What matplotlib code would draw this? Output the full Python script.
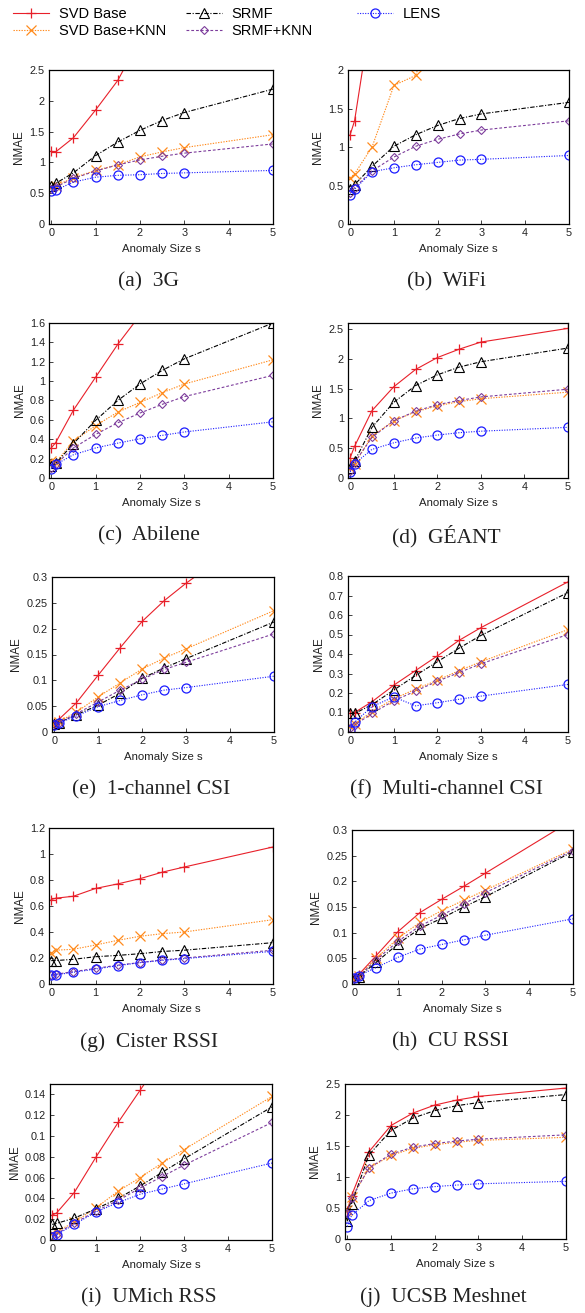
import matplotlib
matplotlib.use("Agg")
import matplotlib.pyplot as plt

plt.rcParams['font.family'] = ['Liberation Sans', 'DejaVu Sans']

# anomaly sizes (x axis)
sizes = [0, 0.1, 0.5, 1, 1.5, 2, 2.5, 3, 5]
method_names = ["SVD Base", "SVD Base+KNN", "SRMF", "SRMF+KNN", "LENS"]

# (a) 3G
svd_3g = [1.18, 1.17, 1.40, 1.85, 2.33, 3.0, 3.7, 4.4, 7.0]
svdknn_3g = [0.60, 0.62, 0.75, 0.87, 0.96, 1.09, 1.17, 1.24, 1.45]
srmf_3g = [0.62, 0.66, 0.83, 1.11, 1.33, 1.52, 1.68, 1.81, 2.19]
srmfknn_3g = [0.57, 0.60, 0.74, 0.86, 0.96, 1.04, 1.10, 1.15, 1.30]
lens_3g = [0.53, 0.55, 0.68, 0.76, 0.79, 0.80, 0.82, 0.83, 0.87]

# (b) WiFi
svd_wifi = [1.16, 1.34, 2.8, 3.6, 4.2, 4.7, 5.1, 5.4, 6.2]
svdknn_wifi = [0.60, 0.65, 1.00, 1.80, 1.93, 2.9, 3.3, 3.6, 4.5]
srmf_wifi = [0.45, 0.51, 0.75, 1.01, 1.16, 1.28, 1.37, 1.43, 1.58]
srmfknn_wifi = [0.40, 0.47, 0.69, 0.87, 1.01, 1.10, 1.17, 1.22, 1.34]
lens_wifi = [0.38, 0.45, 0.68, 0.73, 0.77, 0.80, 0.83, 0.84, 0.89]

# (c) Abilene
svd_abilene = [0.31, 0.365, 0.70, 1.04, 1.38, 1.68, 1.95, 2.2, 3.0]
svdknn_abilene = [0.18, 0.16, 0.38, 0.54, 0.68, 0.78, 0.88, 0.97, 1.22]
srmf_abilene = [0.12, 0.15, 0.355, 0.595, 0.80, 0.97, 1.11, 1.23, 1.60]
srmfknn_abilene = [0.10, 0.14, 0.31, 0.45, 0.57, 0.67, 0.76, 0.84, 1.06]
lens_abilene = [0.096, 0.14, 0.24, 0.31, 0.36, 0.405, 0.44, 0.475, 0.58]

# (d) GEANT
svd_geant = [0.34, 0.53, 1.13, 1.53, 1.82, 2.02, 2.16, 2.28, 2.51]
svdknn_geant = [0.17, 0.24, 0.70, 0.96, 1.11, 1.21, 1.28, 1.33, 1.44]
srmf_geant = [0.16, 0.28, 0.85, 1.27, 1.55, 1.73, 1.86, 1.95, 2.18]
srmfknn_geant = [0.12, 0.26, 0.68, 0.96, 1.12, 1.23, 1.30, 1.36, 1.49]
lens_geant = [0.10, 0.24, 0.48, 0.59, 0.67, 0.72, 0.76, 0.785, 0.85]

# (e) 1-channel CSI
svd_csi1 = [0.018, 0.024, 0.056, 0.110, 0.163, 0.214, 0.254, 0.288, 0.41]
svdknn_csi1 = [0.016, 0.020, 0.038, 0.068, 0.095, 0.122, 0.143, 0.161, 0.235]
srmf_csi1 = [0.016, 0.018, 0.033, 0.052, 0.075, 0.104, 0.124, 0.142, 0.213]
srmfknn_csi1 = [0.015, 0.018, 0.035, 0.058, 0.081, 0.102, 0.121, 0.135, 0.190]
lens_csi1 = [0.014, 0.017, 0.031, 0.049, 0.061, 0.072, 0.081, 0.086, 0.108]

# (f) Multi-channel CSI
svd_csim = [0.095, 0.100, 0.155, 0.240, 0.315, 0.390, 0.470, 0.535, 0.770]
svdknn_csim = [0.030, 0.040, 0.105, 0.170, 0.220, 0.265, 0.315, 0.360, 0.525]
srmf_csim = [0.095, 0.095, 0.140, 0.215, 0.290, 0.360, 0.430, 0.495, 0.715]
srmfknn_csim = [0.020, 0.035, 0.095, 0.160, 0.210, 0.260, 0.305, 0.350, 0.500]
lens_csim = [0.010, 0.050, 0.130, 0.180, 0.134, 0.150, 0.168, 0.184, 0.244]

# (g) Cister RSSI
svd_cister = [0.65, 0.66, 0.675, 0.735, 0.77, 0.81, 0.86, 0.90, 1.054]
svdknn_cister = [0.24, 0.26, 0.267, 0.30, 0.336, 0.367, 0.387, 0.40, 0.495]
srmf_cister = [0.18, 0.18, 0.19, 0.21, 0.22, 0.233, 0.25, 0.26, 0.318]
srmfknn_cister = [0.07, 0.075, 0.095, 0.12, 0.145, 0.165, 0.185, 0.20, 0.26]
lens_cister = [0.067, 0.07, 0.09, 0.115, 0.141, 0.164, 0.182, 0.195, 0.251]

# (h) CU RSSI
svd_cu = [0.012, 0.018, 0.055, 0.102, 0.139, 0.165, 0.190, 0.216, 0.320]
svdknn_cu = [0.012, 0.016, 0.050, 0.089, 0.120, 0.143, 0.163, 0.183, 0.263]
srmf_cu = [0.010, 0.014, 0.042, 0.078, 0.108, 0.128, 0.150, 0.170, 0.258]
srmfknn_cu = [0.011, 0.015, 0.047, 0.083, 0.113, 0.134, 0.156, 0.178, 0.260]
lens_cu = [0.011, 0.016, 0.032, 0.052, 0.068, 0.077, 0.086, 0.095, 0.127]

# (i) UMich RSS
svd_umich = [0.024, 0.026, 0.0455, 0.080, 0.113, 0.144, 0.175, 0.205, 0.32]
svdknn_umich = [0.007, 0.008, 0.017, 0.031, 0.047, 0.060, 0.074, 0.087, 0.138]
srmf_umich = [0.015, 0.016, 0.021, 0.030, 0.040, 0.052, 0.065, 0.078, 0.128]
srmfknn_umich = [0.004, 0.006, 0.016, 0.028, 0.038, 0.050, 0.061, 0.072, 0.113]
lens_umich = [0.003, 0.005, 0.015, 0.027, 0.036, 0.044, 0.049, 0.054, 0.074]

# (j) UCSB Meshnet
svd_ucsb = [0.45, 0.70, 1.41, 1.83, 2.03, 2.16, 2.24, 2.30, 2.435]
svdknn_ucsb = [0.47, 0.67, 1.14, 1.35, 1.46, 1.52, 1.56, 1.59, 1.64]
srmf_ucsb = [0.285, 0.57, 1.36, 1.75, 1.95, 2.07, 2.15, 2.20, 2.33]
srmfknn_ucsb = [0.42, 0.66, 1.145, 1.37, 1.48, 1.54, 1.58, 1.61, 1.68]
lens_ucsb = [0.20, 0.38, 0.62, 0.74, 0.81, 0.845, 0.87, 0.89, 0.93]

captions = ["(a)  3G", "(b)  WiFi", "(c)  Abilene", "(d)  GÉANT", "(e)  1-channel CSI",
            "(f)  Multi-channel CSI", "(g)  Cister RSSI", "(h)  CU RSSI",
            "(i)  UMich RSS", "(j)  UCSB Meshnet"]
panel_series = [
    [svd_3g, svdknn_3g, srmf_3g, srmfknn_3g, lens_3g],
    [svd_wifi, svdknn_wifi, srmf_wifi, srmfknn_wifi, lens_wifi],
    [svd_abilene, svdknn_abilene, srmf_abilene, srmfknn_abilene, lens_abilene],
    [svd_geant, svdknn_geant, srmf_geant, srmfknn_geant, lens_geant],
    [svd_csi1, svdknn_csi1, srmf_csi1, srmfknn_csi1, lens_csi1],
    [svd_csim, svdknn_csim, srmf_csim, srmfknn_csim, lens_csim],
    [svd_cister, svdknn_cister, srmf_cister, srmfknn_cister, lens_cister],
    [svd_cu, svdknn_cu, srmf_cu, srmfknn_cu, lens_cu],
    [svd_umich, svdknn_umich, srmf_umich, srmfknn_umich, lens_umich],
    [svd_ucsb, svdknn_ucsb, srmf_ucsb, srmfknn_ucsb, lens_ucsb],
]
y_tops = [2.5, 2, 1.6, 2.6, 0.3, 0.8, 1.2, 0.3, 0.15, 2.5]
y_ticks = [
    [0, 0.5, 1, 1.5, 2, 2.5],
    [0, 0.5, 1, 1.5, 2],
    [0, 0.2, 0.4, 0.6, 0.8, 1, 1.2, 1.4, 1.6],
    [0, 0.5, 1, 1.5, 2, 2.5],
    [0, 0.05, 0.1, 0.15, 0.2, 0.25, 0.3],
    [0, 0.1, 0.2, 0.3, 0.4, 0.5, 0.6, 0.7, 0.8],
    [0, 0.2, 0.4, 0.6, 0.8, 1, 1.2],
    [0, 0.05, 0.1, 0.15, 0.2, 0.25, 0.3],
    [0, 0.02, 0.04, 0.06, 0.08, 0.1, 0.12, 0.14],
    [0, 0.5, 1, 1.5, 2, 2.5],
]

# line styles for the five methods
styles = [
    dict(color='#e8202a', ls='-', marker='+', ms=7, mew=0.9),
    dict(color='#ff8a1c', ls=(0, (1.2, 1.2)), marker='x', ms=7, mew=0.9),
    dict(color='black', ls=(0, (4, 1.5, 1, 1.5)), marker='^', ms=6.5, mfc='none', mew=0.8),
    dict(color='#7d3d9c', ls=(0, (2.5, 1.8)), marker='D', ms=4.5, mfc='none', mew=0.8),
    dict(color='#1c1cff', ls=(0, (1, 1.3)), marker='o', ms=6.5, mfc='none', mew=0.9),
]

W, H = 585, 1313
fig = plt.figure(figsize=(W / 100, H / 100), dpi=100)

# axes boxes in pixels: left, top, right, bottom
boxes = [
    (49, 70, 273, 224), (348, 70, 569, 224),
    (49, 323, 273, 478), (348, 323, 568, 478),
    (52, 577, 274, 732), (348, 576, 568, 732),
    (49, 828, 273, 984), (352, 830, 573, 984),
    (50, 1084, 272, 1240), (345, 1084, 566, 1239),
]

handles = []
for k, (l, t, r, b) in enumerate(boxes):
    ax = fig.add_axes([l / W, 1 - b / H, (r - l) / W, (b - t) / H])
    for j, ser in enumerate(panel_series[k]):
        h, = ax.plot(sizes, ser, lw=0.8, label=method_names[j], **styles[j])
        if k == 0:
            handles.append(h)
    ax.set_xlim(-0.05, 5)
    ax.set_ylim(0, y_tops[k])
    ax.set_xticks([0, 1, 2, 3, 4, 5])
    ax.set_yticks(y_ticks[k])
    ax.set_yticklabels([f"{v:g}" for v in y_ticks[k]])
    ax.tick_params(direction='in', length=3, width=0.6, labelsize=7.8, pad=3,
                   colors='#222222')
    for sp in ax.spines.values():
        sp.set_linewidth(0.9)
    ax.set_xlabel("Anomaly Size s", fontsize=8.2, labelpad=4, color='#222222')
    ax.set_ylabel("NMAE", fontsize=8.4, labelpad=3, color='#222222')
    cx = (l + r) / 2 - 12
    fig.text(cx / W, 1 - (b + 58) / H, captions[k], family='Liberation Serif',
             fontsize=15.5, ha='center', va='center', color='#222222')

leg_kw = dict(loc='upper left', frameon=False, fontsize=10.5, handlelength=2.5,
              handletextpad=0.65, columnspacing=1.35, labelspacing=0.2,
              borderaxespad=0, borderpad=0)
fig.legend(handles=handles[:4], ncol=2, bbox_to_anchor=(13 / W, 1 - 7 / H), **leg_kw)
fig.legend(handles=handles[4:], ncol=1, bbox_to_anchor=(357 / W, 1 - 7 / H), **leg_kw)

fig.savefig("out.png", dpi=100)
